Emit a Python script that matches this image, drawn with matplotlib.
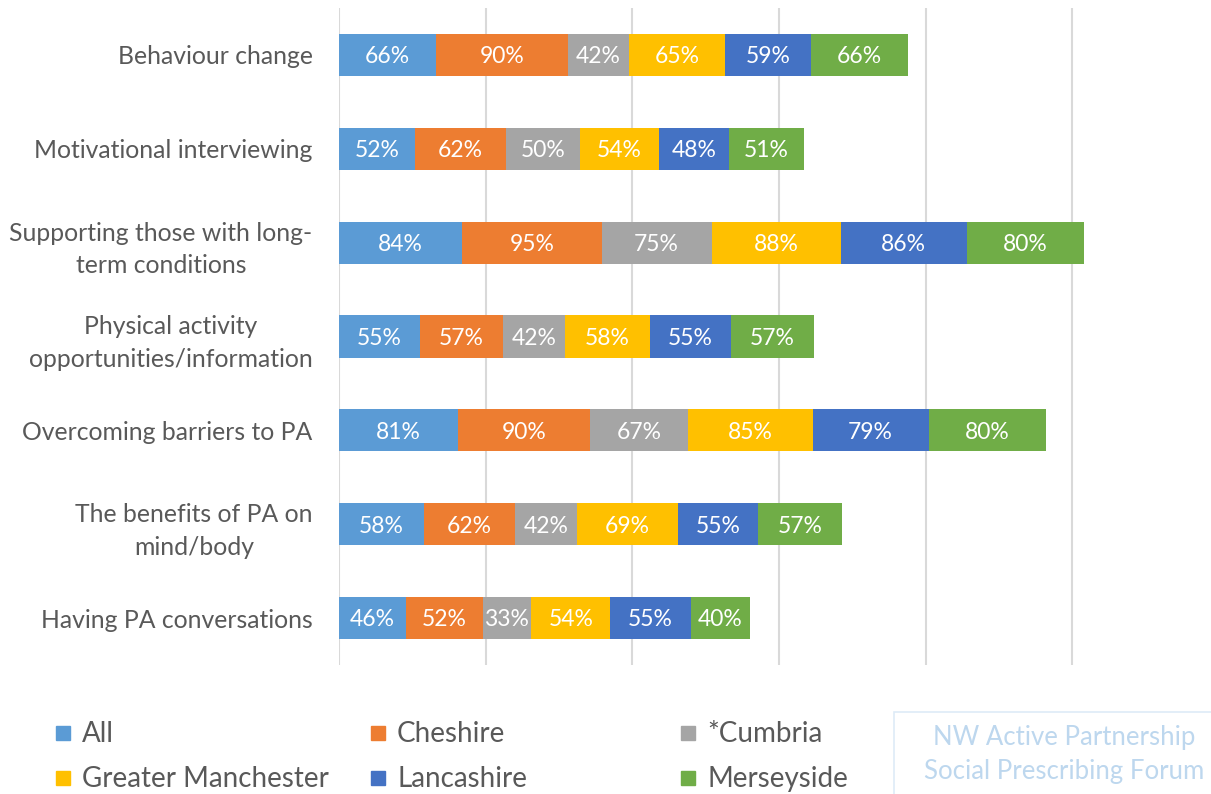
import matplotlib
matplotlib.use("Agg")
import matplotlib.pyplot as plt
from matplotlib.patches import Rectangle

plt.rcParams['font.family'] = ['Lato', 'DejaVu Sans']

categories = [
    "Behaviour change",
    "Motivational interviewing",
    "Supporting those with long-\nterm conditions",
    "Physical activity\nopportunities/information",
    "Overcoming barriers to PA",
    "The benefits of PA on\nmind/body",
    "Having PA conversations",
]
series_names = ["All", "Cheshire", "*Cumbria", "Greater Manchester", "Lancashire", "Merseyside"]
all_vals = [66, 52, 84, 55, 81, 58, 46]
cheshire = [90, 62, 95, 57, 90, 62, 52]
cumbria = [42, 50, 75, 42, 67, 42, 33]
greater_manchester = [65, 54, 88, 58, 85, 69, 54]
lancashire = [59, 48, 86, 55, 79, 55, 55]
merseyside = [66, 51, 80, 57, 80, 57, 40]
colors = ["#5B9BD5", "#ED7D31", "#A5A5A5", "#FFC000", "#4472C4", "#70AD47"]

series = [all_vals, cheshire, cumbria, greater_manchester, lancashire, merseyside]

W, H = 1211, 794
fig = plt.figure(figsize=(W / 100, H / 100), dpi=100)
# value axis runs 0-600 %, the last gridline falls just past the right edge
ax = fig.add_axes([339 / W, 1 - 665 / H, 880 / W, (665 - 8) / H])

ypos = list(range(len(categories)))
left = [0] * len(categories)
for vals, name, col in zip(series, series_names, colors):
    ax.barh(ypos, vals, left=left, height=0.45, color=col, label=name, zorder=3)
    for y, v, l in zip(ypos, vals, left):
        ax.text(l + v / 2, y + 0.02, f"{v}%", ha="center", va="center", color="white",
                fontsize=16.5, zorder=4)
    left = [a + b for a, b in zip(left, vals)]

ax.set_xlim(0, 600)
ax.set_ylim(len(categories) - 0.5, -0.5)
ax.set_xticks(range(0, 601, 100))
ax.xaxis.grid(True, color="#D9D9D9", linewidth=1.5, zorder=0)
ax.tick_params(axis="x", length=0, labelbottom=False)
ax.tick_params(axis="y", length=0, pad=19)
ax.set_yticks(ypos)
ax.set_yticklabels(categories, fontsize=17.8, color="#595959",
                   multialignment="center", linespacing=1.5)
for s in ax.spines.values():
    s.set_visible(False)

# legend laid out in three fixed-width columns
col_x = [56, 371, 681]
row_y = [733, 778]
for i, (name, col) in enumerate(zip(series_names, colors)):
    r, c = divmod(i, 3)
    x, y = col_x[c], row_y[r]
    fig.patches.append(Rectangle((x / W, 1 - (y + 7) / H), 14 / W, 14 / H,
                                 transform=fig.transFigure, color=col))
    fig.text((x + 26) / W, 1 - (y + 1) / H, name, fontsize=20, color="#595959",
             ha="left", va="center")

# attribution box
fig.patches.append(Rectangle((894 / W, 1 - 800 / H), 330 / W, 88 / H,
                             transform=fig.transFigure, fill=False,
                             edgecolor="#DEEBF7", linewidth=1.2))
fig.text(1064 / W, 1 - 738 / H, "NW Active Partnership", fontsize=18.5,
         color="#BDD7EE", ha="center", va="center")
fig.text(1064 / W, 1 - 772 / H, "Social Prescribing Forum", fontsize=18.5,
         color="#BDD7EE", ha="center", va="center")

fig.savefig("out.png", dpi=100)
